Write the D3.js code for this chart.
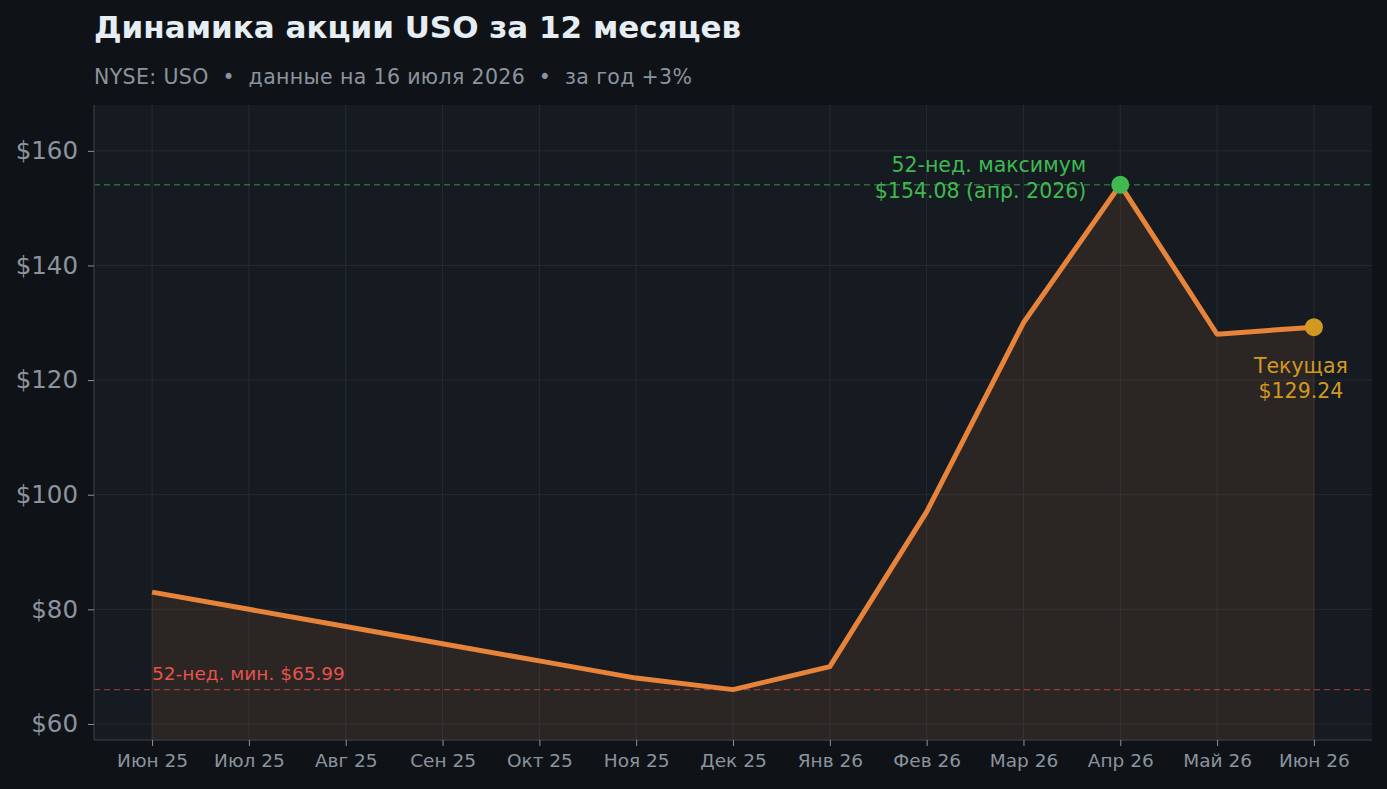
<!DOCTYPE html>
<html>
<head>
<meta charset="utf-8">
<script src="https://cdn.jsdelivr.net/npm/d3@7"></script>
<style>
  html, body { margin: 0; padding: 0; background: #0f1318; }
  svg { display: block; font-family: "DejaVu Sans", sans-serif; }
</style>
</head>
<body>
<div id="chart"></div>
<script>
// Month labels and closing prices
const months = ["Июн 25", "Июл 25", "Авг 25", "Сен 25", "Окт 25", "Ноя 25", "Дек 25",
  "Янв 26", "Фев 26", "Мар 26", "Апр 26", "Май 26", "Июн 26"];
const prices = [83, 80, 77, 74, 71, 68, 65.99, 70, 97, 130, 154.08, 128, 129.24];
const yTicks = [60, 80, 100, 120, 140, 160];
const low52 = 65.99;
const high52 = 154.08;
const highIndex = 10;
const current = 129.24;

const W = 1387, H = 789;
const margin = { top: 105, right: 15, bottom: 49, left: 94 };
const width = W - margin.left - margin.right;
const height = H - margin.top - margin.bottom;

const root = d3.select("#chart").append("svg")
  .attr("width", W).attr("height", H);

root.append("rect").attr("width", W).attr("height", H).attr("fill", "#0f1318");

// Titles
root.append("text").attr("x", 94).attr("y", 38)
  .attr("fill", "#e6edf3").attr("font-size", 31).attr("font-weight", "bold")
  .text("Динамика акции USO за 12 месяцев");
root.append("text").attr("x", 94).attr("y", 84)
  .attr("fill", "#8b949e").attr("font-size", 20.5)
  .attr("textLength", 598).attr("lengthAdjust", "spacing")
  .style("white-space", "pre")
  .text("NYSE: USO  •  данные на 16 июля 2026  •  за год +3%");

const svg = root.append("g").attr("transform", `translate(${margin.left},${margin.top})`);

svg.append("rect").attr("width", width).attr("height", height).attr("fill", "#161b22");

const x = d3.scaleLinear().domain([-0.6, months.length - 1 + 0.6]).range([0, width]);
const y = d3.scaleLinear().domain([57.2, 168]).range([height, 0]);

// Grid
svg.append("g").selectAll("line").data(months).join("line")
  .attr("x1", (d, i) => x(i)).attr("x2", (d, i) => x(i))
  .attr("y1", 0).attr("y2", height)
  .attr("stroke", "#262b33").attr("stroke-width", 1);
svg.append("g").selectAll("line").data(yTicks).join("line")
  .attr("x1", 0).attr("x2", width)
  .attr("y1", d => y(d)).attr("y2", d => y(d))
  .attr("stroke", "#262b33").attr("stroke-width", 1);

// Area under line
const area = d3.area()
  .x((d, i) => x(i))
  .y0(height)
  .y1(d => y(d));
svg.append("path").datum(prices)
  .attr("fill", "#e8843a").attr("fill-opacity", 0.1)
  .attr("stroke", "#e8843a").attr("stroke-opacity", 0.12)
  .attr("d", area);

// Reference lines
svg.append("line")
  .attr("x1", 0).attr("x2", width).attr("y1", y(high52)).attr("y2", y(high52))
  .attr("stroke", "#3fb950").attr("stroke-opacity", 0.5).attr("stroke-width", 1.4)
  .attr("stroke-dasharray", "6,4");
svg.append("line")
  .attr("x1", 0).attr("x2", width).attr("y1", y(low52)).attr("y2", y(low52))
  .attr("stroke", "#e5534b").attr("stroke-opacity", 0.55).attr("stroke-width", 1.4)
  .attr("stroke-dasharray", "6,4");

// Price line
const line = d3.line().x((d, i) => x(i)).y(d => y(d));
svg.append("path").datum(prices)
  .attr("fill", "none").attr("stroke", "#e8843a").attr("stroke-width", 5)
  .attr("stroke-linejoin", "round")
  .attr("d", line);

// Markers
svg.append("circle").attr("cx", x(highIndex)).attr("cy", y(high52)).attr("r", 9)
  .attr("fill", "#3fb950");
svg.append("circle").attr("cx", x(prices.length - 1)).attr("cy", y(current)).attr("r", 9)
  .attr("fill", "#d29922");

// Annotations
const hi = svg.append("text").attr("text-anchor", "end").attr("fill", "#3fb950")
  .attr("font-size", 20.5);
hi.append("tspan").attr("x", x(highIndex) - 34).attr("y", y(high52) - 13).text("52-нед. максимум");
hi.append("tspan").attr("x", x(highIndex) - 34).attr("y", y(high52) + 13).text("$154.08 (апр. 2026)");

const cur = svg.append("text").attr("text-anchor", "middle").attr("fill", "#d29922")
  .attr("font-size", 20.5);
cur.append("tspan").attr("x", x(prices.length - 1) - 13).attr("y", y(current) + 46).text("Текущая");
cur.append("tspan").attr("x", x(prices.length - 1) - 13).attr("y", y(current) + 71).text("$129.24");

svg.append("text").attr("x", x(0)).attr("y", y(low52) - 10)
  .attr("fill", "#e5534b").attr("font-size", 18.5)
  .text("52-нед. мин. $65.99");

// Axes
const xAxis = svg.append("g").attr("transform", `translate(0,${height})`)
  .call(d3.axisBottom(x).tickValues(d3.range(months.length))
    .tickFormat(i => months[i]).tickSize(6).tickPadding(8));
const yAxis = svg.append("g")
  .call(d3.axisLeft(y).tickValues(yTicks).tickFormat(d => "$" + d).tickSize(6).tickPadding(10));

xAxis.select(".domain").attr("stroke", "#30363d").attr("stroke-width", 1.5)
  .attr("d", `M0,0H${width}`);
yAxis.select(".domain").attr("stroke", "#30363d").attr("stroke-width", 1.5)
  .attr("d", `M0,0V${height}`);
xAxis.selectAll(".tick line").attr("stroke", "#8b949e");
yAxis.selectAll(".tick line").attr("stroke", "#8b949e");
xAxis.selectAll(".tick text").attr("fill", "#8b949e").attr("font-size", 18.5)
  .attr("font-family", "DejaVu Sans, sans-serif");
yAxis.selectAll(".tick text").attr("fill", "#8b949e").attr("font-size", 24.5)
  .attr("font-family", "DejaVu Sans, sans-serif");
</script>
</body>
</html>
